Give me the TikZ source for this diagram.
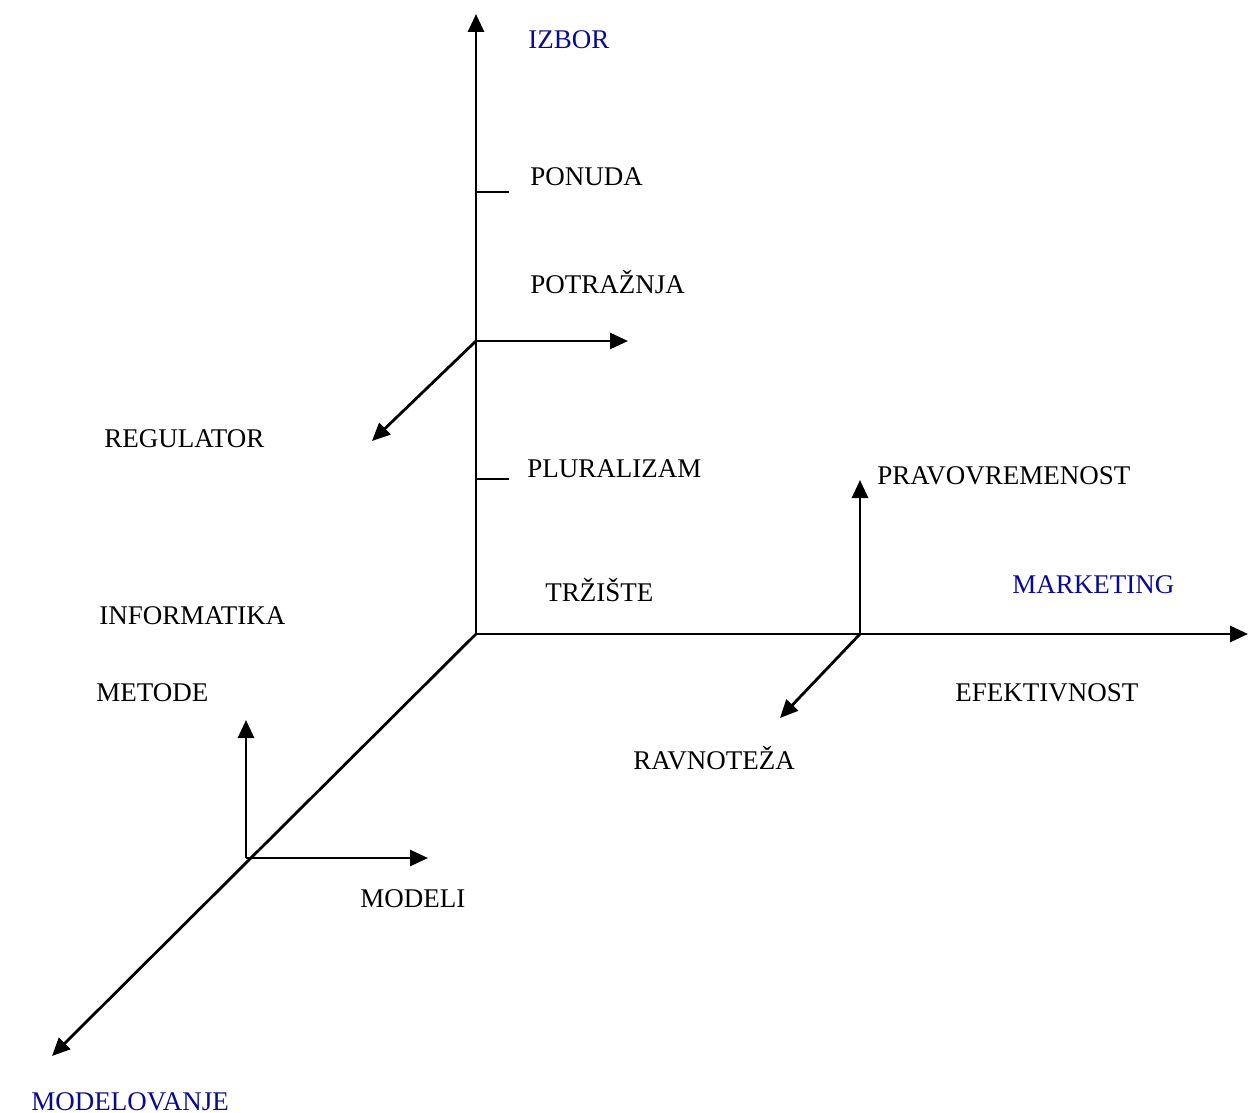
\documentclass[tikz,border=0pt]{standalone}
\usepackage{fontspec}
\setmainfont{Liberation Serif}
\usetikzlibrary{arrows.meta}
\definecolor{navy}{RGB}{10,10,145}
\begin{document}
\begin{tikzpicture}[x=0.5pt,y=-0.5pt,
  ax/.style={line width=1.4pt,-{Triangle[length=9pt,width=8pt]}},
  ln/.style={line width=1.4pt},
  lbl/.style={anchor=base west,inner sep=0pt,font=\fontsize{13.5}{16}\selectfont},
  blbl/.style={lbl,text=navy}]
\useasboundingbox (0,0) rectangle (1248,1113);
% origins / coordinates
\coordinate (O) at (476,634);
\coordinate (Ytop) at (476,14);
\coordinate (Xend) at (1248,634);
\coordinate (Zend) at (52,1056);
\coordinate (B1) at (476,341);
\coordinate (B1r) at (628,341);
\coordinate (B1d) at (372,441);
\coordinate (B2) at (860,634);
\coordinate (B2u) at (860,480);
\coordinate (B2d) at (780,718);
\coordinate (B3) at (246,858);
\coordinate (B3u) at (246,720);
\coordinate (B3r) at (428,858);
\coordinate (T1) at (476,192);
\coordinate (T1e) at (509,192);
\coordinate (T2) at (476,479);
\coordinate (T2e) at (509,479);
% axes
\draw[ax] (O) -- (Ytop);
\draw[ax] (O) -- (Xend);
\draw[ax] (O) -- (Zend);
\draw[ln] (T1) -- (T1e);
\draw[ln] (T2) -- (T2e);
\draw[ax] (B1) -- (B1r);
\draw[ax] (B1) -- (B1d);
\draw[ax] (B2) -- (B2u);
\draw[ax] (B2) -- (B2d);
\draw[ax] (B3) -- (B3u);
\draw[ax] (B3) -- (B3r);
% labels
\node[blbl] (izbor) at (528,49) {IZBOR};
\node[lbl] (ponuda) at (530,185) {PONUDA};
\node[lbl] (potraznja) at (530,293) {POTRAŽNJA};
\node[lbl] (regulator) at (104,447) {REGULATOR};
\node[lbl] (pluralizam) at (527,477) {PLURALIZAM};
\node[lbl] (pravo) at (877,484) {PRAVOVREMENOST};
\node[blbl] (marketing) at (1012,593) {MARKETING};
\node[lbl] (trziste) at (545,601) {TRŽIŠTE};
\node[lbl] (informatika) at (99,624) {INFORMATIKA};
\node[lbl] (metode) at (96,701) {METODE};
\node[lbl] (efektivnost) at (955,701) {EFEKTIVNOST};
\node[lbl] (ravnoteza) at (633,769) {RAVNOTEŽA};
\node[lbl] (modeli) at (360,907) {MODELI};
\node[blbl] (modelovanje) at (31,1110) {MODELOVANJE};
\end{tikzpicture}
\end{document}
